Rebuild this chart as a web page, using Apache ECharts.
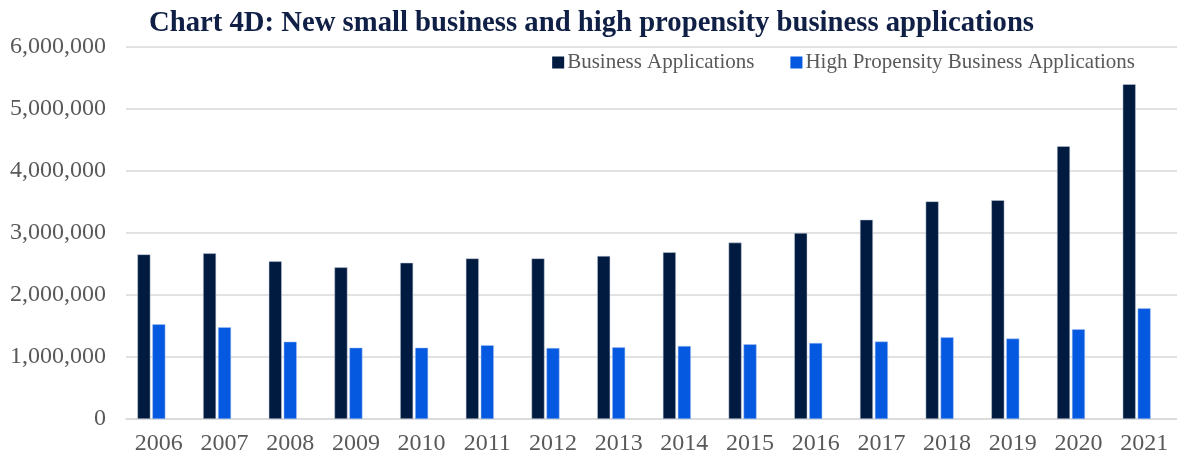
<!DOCTYPE html>
<html><head><meta charset="utf-8">
<script src="https://cdn.jsdelivr.net/npm/echarts@6/dist/echarts.min.js"></script>
<style>html,body{margin:0;padding:0;background:#fff}#c{width:1177px;height:460px}</style>
</head><body><div id="c"></div>
<script>
const years = ['2006','2007','2008','2009','2010','2011','2012','2013','2014','2015','2016','2017','2018','2019','2020','2021'];
const businessApps = [2655000,2672000,2543000,2446000,2520000,2590000,2590000,2630000,2690000,2845000,3000000,3215000,3510000,3530000,4400000,5400000];
const highPropensity = [1527000,1479000,1247000,1150000,1150000,1190000,1145000,1156000,1177000,1205000,1226000,1250000,1317000,1297000,1447000,1785000];
const emptySlot = [];
const chart = echarts.init(document.getElementById('c'));
const serif = '"Liberation Serif","Times New Roman",serif';
chart.setOption({
  animation:false,
  title:{text:'Chart 4D: New small business and high propensity business applications',left:144,top:4,
    textStyle:{fontFamily:serif,fontWeight:'bold',fontSize:28.7,color:'#0f1f45'}},
  legend:{right:37,top:47,itemWidth:12,itemHeight:12,itemGap:36,icon:'rect',
    itemStyle:{borderWidth:0},
    textStyle:{fontFamily:serif,fontSize:21,color:'#595959',padding:[0,0,0,-2]},
    data:['Business Applications','High Propensity Business Applications']},
  grid:{left:126,right:-9,top:47,bottom:41},
  xAxis:{type:'category',data:years,
    axisLine:{lineStyle:{color:'#d9d9d9',width:1.5}},axisTick:{show:false},
    axisLabel:{fontFamily:serif,fontSize:24,color:'#595959',margin:13}},
  yAxis:{type:'value',min:0,max:6000000,interval:1000000,
    axisLine:{show:false},axisTick:{show:false},
    splitLine:{lineStyle:{color:'#d9d9d9',width:1.5}},
    axisLabel:{fontFamily:serif,fontSize:24,color:'#595959',margin:20,
      formatter:v=>v.toLocaleString('en-US')}},
  series:[
    {name:'Business Applications',type:'bar',data:businessApps,barWidth:13,barGap:'15%',
      itemStyle:{color:'#001a40',borderColor:'#c9d0dc',borderWidth:0.5}},
    {name:'High Propensity Business Applications',type:'bar',data:highPropensity,barWidth:13,barGap:'15%',
      itemStyle:{color:'#0558e0',borderColor:'#a9c4f2',borderWidth:0.5}},
    {name:'_slot',type:'bar',data:emptySlot,barWidth:13,barGap:'15%'}
  ]
});
</script></body></html>
